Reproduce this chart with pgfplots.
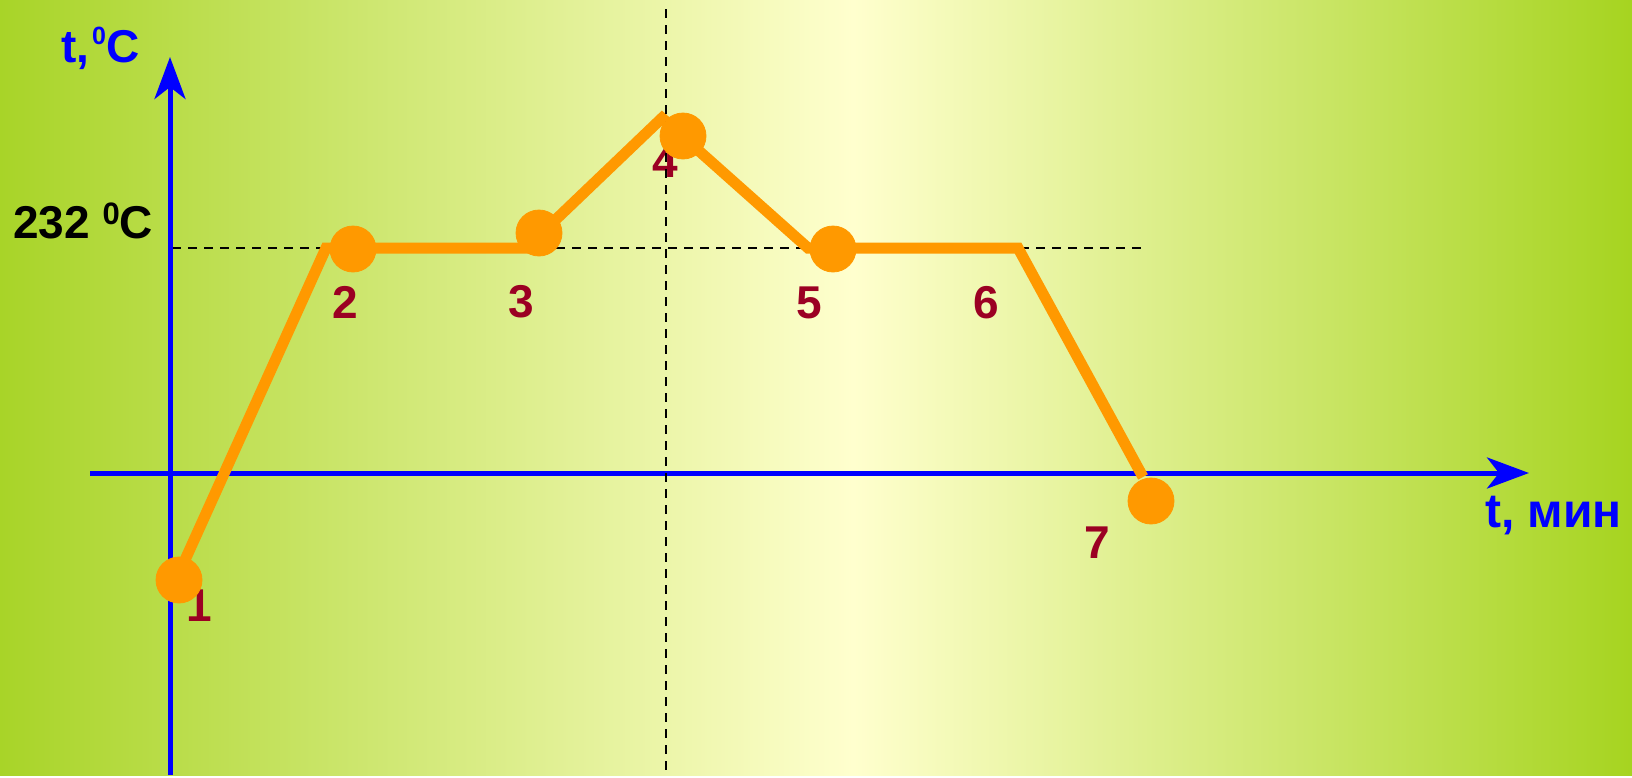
\documentclass[border=0pt]{standalone}
\usepackage{fontspec}
\setmainfont{Liberation Sans}
\usepackage{pgfplots}
\pgfplotsset{compat=1.18}
\usetikzlibrary{arrows.meta}

\definecolor{bgGreen}{RGB}{168,212,40}
\definecolor{bgGreenR}{RGB}{166,212,32}
\definecolor{bgYellow}{RGB}{255,255,206}
\definecolor{curve}{RGB}{255,153,0}
\definecolor{ptlabel}{RGB}{155,0,35}

% left green -> pale yellow at x=853 px -> right green
\pgfdeclarehorizontalshading{bgshade}{100bp}{%
  color(0bp)=(bgGreen); color(25bp)=(bgGreen);
  color(51.13bp)=(bgYellow);
  color(75bp)=(bgGreenR); color(100bp)=(bgGreenR)}

% curve corners and the marked states, in pixels of the 1632x775 picture
\pgfplotstableread{
x    y
185  560
326  248
526  248
662  118
808  248
1018 248
1143 477
}\curveline

\pgfplotstableread{
x    y
179  580
353  249
539  233
683  136
833  249
1151 501
}\states

\tikzset{
  num/.style={text=ptlabel, font=\fontsize{23pt}{23pt}\selectfont\bfseries},
  ttl/.style={anchor=base west, inner sep=0pt, outer sep=0pt},
}
% degree-like raised zero: #1 size, #2 raise
\newcommand{\sz}[2]{\raisebox{#2}{\fontsize{#1}{#1}\selectfont 0}}

\begin{document}
\begin{tikzpicture}
\begin{axis}[
    scale only axis, width=816pt, height=387.5pt,
    xmin=0, xmax=1632, ymin=0, ymax=775, y dir=reverse,
    hide axis, clip=false,
]
% background
\shade[shading=bgshade] (axis cs:0,0) rectangle (axis cs:1632,775);

% level of melting
\draw[black, line width=0.75pt, dash pattern=on 4.5pt off 3.5pt]
    (axis cs:172,248) -- (axis cs:1147,248);

% axes
\draw[blue, line width=2.5pt, -{Stealth[length=21pt, width=15.5pt, inset=6pt]}]
    (axis cs:170,775) -- (axis cs:170,57);
\draw[blue, line width=2.5pt, -{Stealth[length=21pt, width=15.5pt, inset=6pt]}]
    (axis cs:90,473) -- (axis cs:1529,473);

\addplot[curve, line width=5.5pt, line join=miter, line cap=butt, mark=none]
    table[x=x, y=y] {\curveline};

% point numbers
\node[num] at (axis cs:199,606) {1};
\node[num] at (axis cs:345,302) {2};
\node[num] at (axis cs:521,302) {3};
\node[num] at (axis cs:665,162) {4};
\node[num] at (axis cs:809,303) {5};
\node[num] at (axis cs:986,303) {6};
\node[num] at (axis cs:1097,543) {7};

\addplot[only marks, mark=*, mark size=11.5pt, color=curve,
    mark options={draw=none, fill=curve}]
    table[x=x, y=y] {\states};

\draw[black, line width=0.75pt, dash pattern=on 4.5pt off 3.5pt]
    (axis cs:666,9) -- (axis cs:666,775);

% axis labels
\node[ttl, text=blue, font=\fontsize{23pt}{23pt}\selectfont\bfseries]
    at (axis cs:61,62) {t,\hspace{1.5pt}\sz{12.5pt}{8.6pt}C};
\node[ttl, text=black, font=\fontsize{23pt}{23pt}\selectfont\bfseries]
    at (axis cs:13,238) {232 \sz{15.5pt}{7pt}C};
\node[ttl, text=blue, font=\fontsize{24pt}{24pt}\selectfont\bfseries]
    at (axis cs:1485,527) {t, мин};
\end{axis}
\end{tikzpicture}
\end{document}
